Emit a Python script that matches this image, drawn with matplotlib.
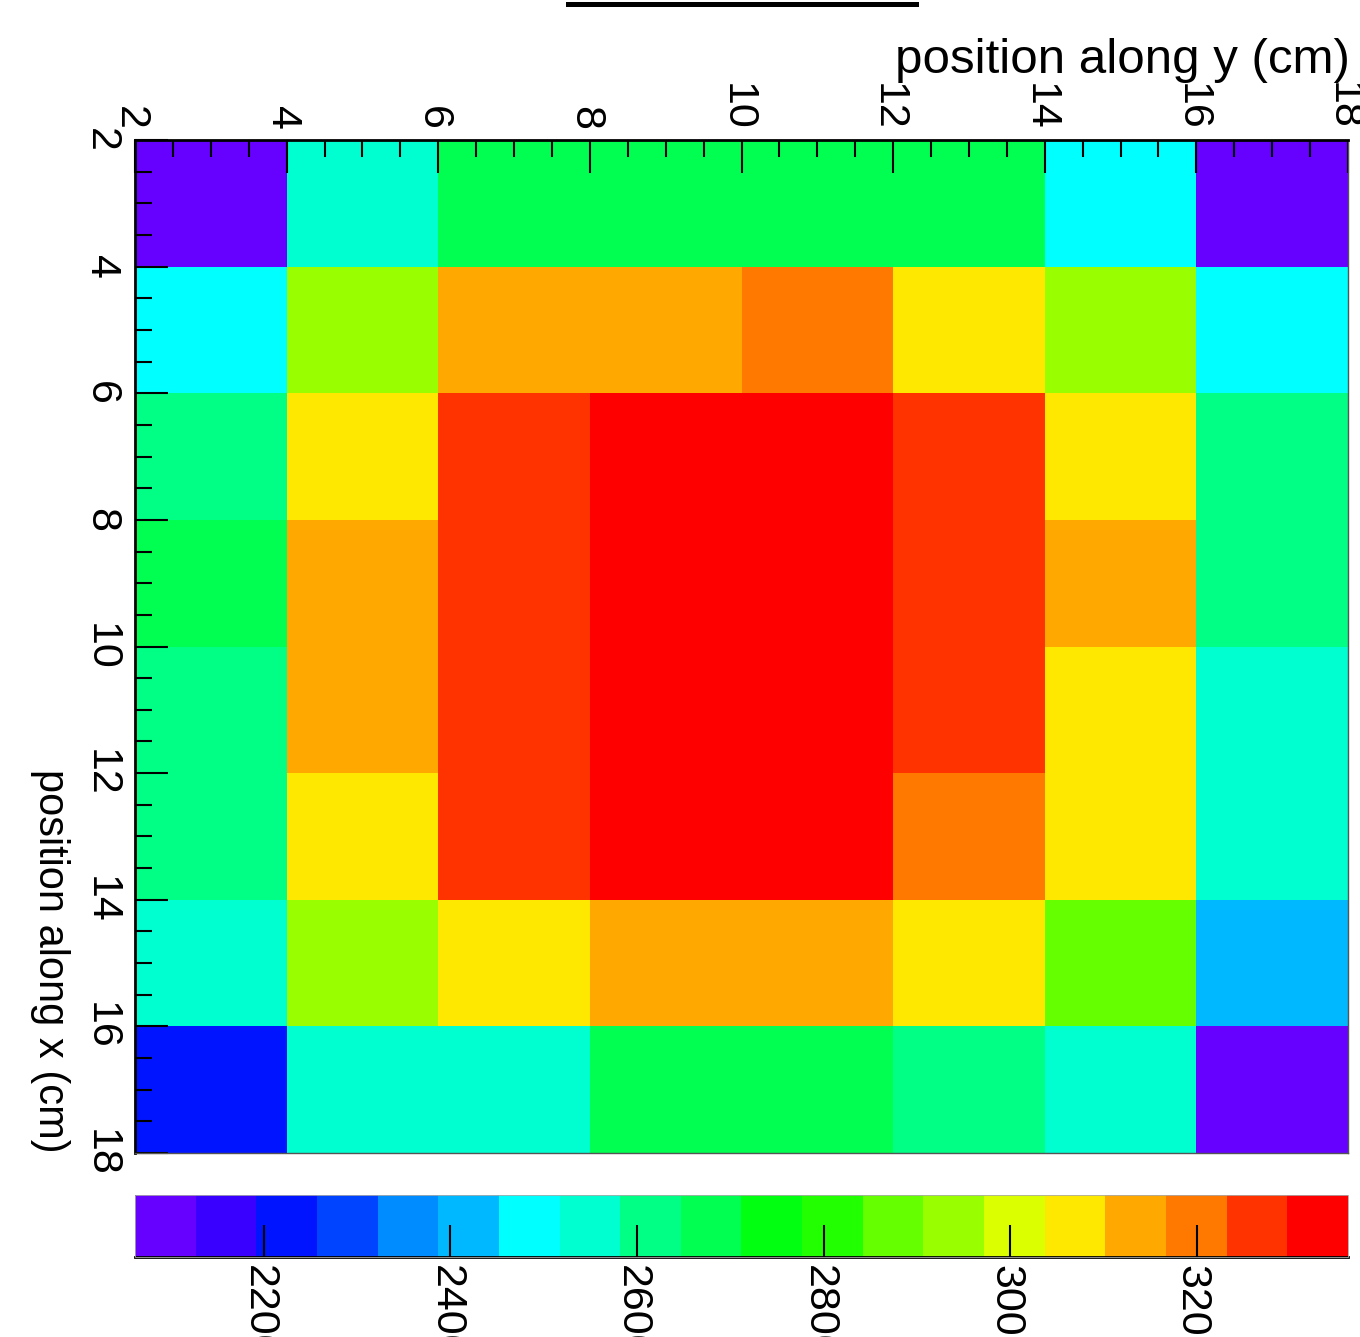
import numpy as np
import matplotlib.pyplot as plt
from matplotlib.colors import ListedColormap, Normalize
from matplotlib.cm import ScalarMappable
from matplotlib.ticker import MultipleLocator
from matplotlib.lines import Line2D
from matplotlib.transforms import ScaledTranslation

plt.rcParams['font.family'] = ['Liberation Sans', 'DejaVu Sans']

# bin edges in cm
y_edges = [2, 4, 6, 8, 10, 12, 14, 16, 18]   # horizontal: position along y
x_edges = [2, 4, 6, 8, 10, 12, 14, 16, 18]   # vertical: position along x
axis_ticks = [2, 4, 6, 8, 10, 12, 14, 16, 18]

# cell contents, one row per x bin (top -> bottom), one column per y bin
counts = [
    [2095, 2550, 2680, 2680, 2680, 2680, 2485, 2095],
    [2485, 2940, 3135, 3135, 3200, 3070, 2940, 2485],
    [2615, 3070, 3265, 3330, 3330, 3265, 3070, 2615],
    [2680, 3135, 3265, 3330, 3330, 3265, 3135, 2615],
    [2615, 3135, 3265, 3330, 3330, 3265, 3070, 2550],
    [2615, 3070, 3265, 3330, 3330, 3200, 3070, 2550],
    [2550, 2940, 3070, 3135, 3135, 3070, 2875, 2420],
    [2224, 2550, 2550, 2680, 2680, 2615, 2550, 2095],
]

z_min, z_max = 2062, 3362
z_ticks = [2200, 2400, 2600, 2800, 3000, 3200]

palette = ['#6600ff', '#3a00ff', '#0014ff', '#0044ff', '#008cff',
           '#00b8ff', '#00ffff', '#00ffd0', '#00ff84', '#00ff50',
           '#00ff10', '#22ff00', '#66ff00', '#99ff00', '#dcff00',
           '#ffe800', '#ffa800', '#ff7800', '#ff3300', '#ff0000']

cmap = ListedColormap(palette)
norm = Normalize(z_min, z_max)

W, H = 1360, 1337
fig = plt.figure(figsize=(W / 100, H / 100), dpi=100)
ax = fig.add_axes([135 / W, 1 - 1153 / H, 1213 / W, 1013 / H])
cax = fig.add_axes([135 / W, 1 - 1257 / H, 1213 / W, 62 / H])

ax.pcolormesh(y_edges, x_edges, np.array(counts), cmap=cmap, norm=norm)
ax.set_xlim(2, 18)
ax.set_ylim(18, 2)

ax.xaxis.tick_top()
ax.set_xticks(axis_ticks, labels=[str(t) for t in axis_ticks])
ax.set_yticks(axis_ticks, labels=[str(t) for t in axis_ticks], va='center')
ax.xaxis.set_minor_locator(MultipleLocator(0.5))
ax.yaxis.set_minor_locator(MultipleLocator(0.5))
ax.tick_params(which='both', direction='in', width=1.5, top=True, bottom=False,
               left=True, right=False, labeltop=True, labelbottom=False)
ax.tick_params(which='major', length=24)
ax.tick_params(which='minor', length=12.5)
ax.tick_params(axis='x', labelrotation=-90, pad=7, labelsize=31)
ax.tick_params(axis='y', labelrotation=-90, pad=10, labelsize=31)
for side in ['top', 'left']:
    ax.spines[side].set_linewidth(2)
for side in ['bottom', 'right']:
    ax.spines[side].set_linewidth(1)
    ax.spines[side].set_color('#555555')

shift = ScaledTranslation(-5 / 100, 0, fig.dpi_scale_trans)
for lab in ax.xaxis.get_majorticklabels():
    lab.set_transform(lab.get_transform() + shift)

cb = fig.colorbar(ScalarMappable(norm=norm, cmap=cmap), cax=cax, orientation='horizontal')
cb.set_ticks(z_ticks)
cb.set_ticklabels([str(v) for v in z_ticks])
cax.minorticks_off()
cax.tick_params(axis='x', direction='in', length=23, width=1.5, labelsize=31,
                labelrotation=-90, pad=6, bottom=True, top=False)
for lab in cax.xaxis.get_majorticklabels():
    lab.set_transform(lab.get_transform() + shift)
cb.outline.set_linewidth(0.6)
cb.outline.set_edgecolor('#aaaaaa')
cax.plot([0, 1], [0, 0], transform=cax.transAxes, color='k', lw=2, clip_on=False)

fig.text(1350 / W, 1 - 73 / H, 'position along y (cm)', ha='right', va='baseline',
         fontsize=35.5)
fig.text(50 / W, 1 - 1153 / H, 'position along x (cm)', rotation=-90,
         ha='center', va='bottom', fontsize=30)

fig.add_artist(Line2D([568 / W, 916 / W], [1 - 4 / H, 1 - 4 / H], color='k', lw=3.6))

fig.savefig('out.png', dpi=100)
